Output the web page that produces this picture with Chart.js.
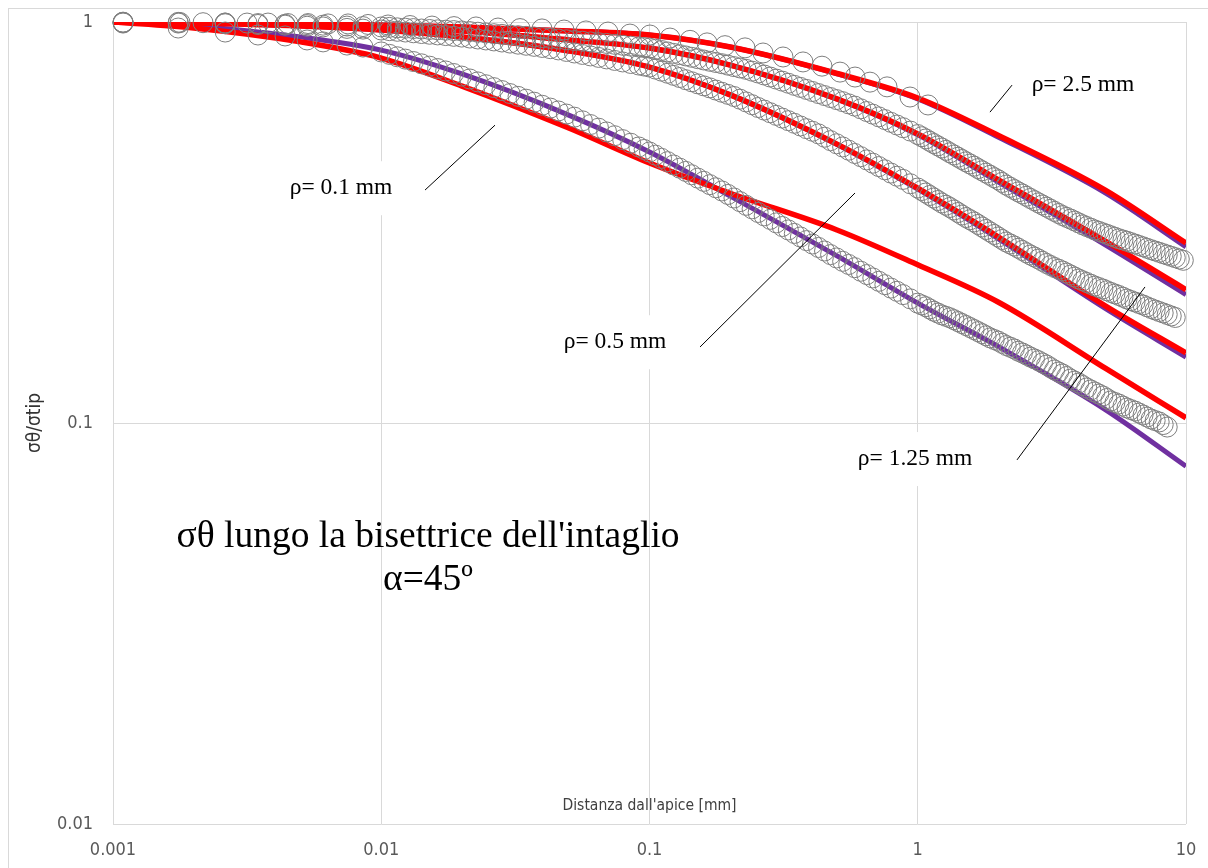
<!DOCTYPE html>
<html>
<head>
<meta charset="utf-8">
<script src="https://cdn.jsdelivr.net/npm/chart.js@4/dist/chart.umd.min.js"></script>
<style>
  html, body { margin: 0; padding: 0; background: #fff; }
  canvas { display: block; }
</style>
</head>
<body>
<canvas id="chart" width="1208" height="868"></canvas>
<script>
// ---- tick values ----
const xTicks = [0.001, 0.01, 0.1, 1, 10];
const yTicks = [0.01, 0.1, 1];

// ---- curve x positions (mm) ----
const xLine = [0.001, 0.002, 0.005, 0.01, 0.02, 0.05, 0.1, 0.2, 0.5, 1, 2, 5, 10];

// red curves
const red25  = [1.0, 0.997, 0.991, 0.983, 0.972, 0.950, 0.928, 0.866, 0.744, 0.646, 0.521, 0.381, 0.281];
const red125 = [1.0, 0.997, 0.986, 0.972, 0.950, 0.902, 0.861, 0.781, 0.643, 0.526, 0.404, 0.284, 0.215];
const red05  = [1.0, 0.994, 0.977, 0.955, 0.917, 0.847, 0.772, 0.658, 0.496, 0.385, 0.291, 0.196, 0.1495];
const red01  = [1.0, 0.966, 0.892, 0.813, 0.692, 0.544, 0.445, 0.374, 0.303, 0.248, 0.200, 0.137, 0.103];

// purple curves
const purple25  = [1.0, 0.997, 0.991, 0.983, 0.972, 0.950, 0.928, 0.866, 0.743, 0.643, 0.516, 0.375, 0.275];
const purple125 = [1.0, 0.997, 0.986, 0.972, 0.950, 0.902, 0.861, 0.781, 0.642, 0.523, 0.399, 0.278, 0.209];
const purple05  = [1.0, 0.994, 0.977, 0.955, 0.917, 0.847, 0.772, 0.658, 0.495, 0.383, 0.288, 0.193, 0.146];
const purple01  = [1.0, 0.977, 0.917, 0.851, 0.742, 0.586, 0.474, 0.368, 0.261, 0.199, 0.155, 0.108, 0.078];

// FEM points, rho = 2.5 mm (sparse)
const xFem25 = [0.00109, 0.001778, 0.002166, 0.002616, 0.00316, 0.003783, 0.004491, 0.005333, 0.006332, 0.007516,
  0.008925, 0.0106, 0.0128, 0.01546, 0.01867, 0.02255, 0.02724, 0.0329, 0.03974, 0.04801,
  0.05798, 0.07003, 0.08459, 0.1004, 0.1192, 0.1416, 0.1639, 0.1912, 0.227, 0.265,
  0.3146, 0.3735, 0.4396, 0.5131, 0.5837, 0.6637, 0.7683, 0.9357, 1.092];
const fem25 = [0.997, 0.997, 0.996, 0.994, 0.994, 0.994, 0.991, 0.991, 0.989, 0.989,
  0.986, 0.983, 0.980, 0.977, 0.974, 0.972, 0.966, 0.963, 0.961, 0.955,
  0.950, 0.944, 0.933, 0.928, 0.912, 0.900, 0.887, 0.873, 0.862, 0.837,
  0.818, 0.795, 0.776, 0.750, 0.729, 0.708, 0.689, 0.650, 0.621];

// FEM points, dense meshes (shared abscissae)
const xFem = [0.00109, 0.00175, 0.00262, 0.00347, 0.00438, 0.00529, 0.00607, 0.00745, 0.00855,
  0.01, 0.01148, 0.01318, 0.01514, 0.01738, 0.01995, 0.02291, 0.0263, 0.0302, 0.03467, 0.03981,
  0.04571, 0.05248, 0.06026, 0.06918, 0.07943, 0.0912,
  0.1, 0.1109, 0.123, 0.1365, 0.1514, 0.1679, 0.1862, 0.2065, 0.2291, 0.2541, 0.2818, 0.3126,
  0.3467, 0.3846, 0.4266, 0.4732, 0.5248, 0.5821, 0.6457, 0.7161, 0.7943, 0.881,
  1, 1.072, 1.148, 1.23, 1.318, 1.413, 1.514, 1.622, 1.738, 1.862, 1.995, 2.138, 2.291, 2.455,
  2.63, 2.818, 3.02, 3.236, 3.467, 3.715, 3.981, 4.266, 4.571, 4.898, 5.248, 5.623, 6.026,
  6.457, 6.918, 7.413, 7.943, 8.511, 9.12, 9.772];

const fem125 = [0.999, 0.998, 0.994, 0.991, 0.987, 0.985, 0.982, 0.977, 0.974,
  0.972, 0.967, 0.963, 0.958, 0.954, 0.950, 0.943, 0.935, 0.928, 0.921, 0.914, 0.907, 0.899,
  0.892, 0.884, 0.875, 0.866,
  0.861, 0.849, 0.835, 0.823, 0.810, 0.798, 0.787, 0.774, 0.762, 0.746, 0.729, 0.712, 0.695,
  0.679, 0.663, 0.648, 0.633, 0.617, 0.598, 0.580, 0.562, 0.545,
  0.524, 0.511, 0.4975, 0.485, 0.472, 0.460, 0.448, 0.437, 0.4255, 0.4147, 0.404, 0.392, 0.382,
  0.3725, 0.363, 0.354, 0.3455, 0.337, 0.329, 0.3225, 0.3155, 0.309, 0.303, 0.298, 0.293,
  0.288, 0.284, 0.2795, 0.275, 0.2705, 0.2665, 0.2624, 0.2584, 0.2545];

const fem05 = [0.998, 0.994, 0.990, 0.986, 0.982, 0.976, 0.972, 0.964, 0.960,
  0.955, 0.948, 0.940, 0.932, 0.925, 0.917, 0.907, 0.897, 0.886, 0.875, 0.864, 0.852, 0.837,
  0.823, 0.809, 0.795, 0.781,
  0.772, 0.754, 0.736, 0.718, 0.701, 0.685, 0.668, 0.652, 0.632, 0.612, 0.594, 0.576, 0.559,
  0.542, 0.526, 0.506, 0.488, 0.470, 0.453, 0.436, 0.420, 0.405,
  0.3855, 0.3746, 0.364, 0.3537, 0.3447, 0.3349, 0.3254, 0.3172, 0.3082, 0.2995, 0.2910, 0.2827,
  0.2763, 0.2693, 0.2624, 0.2564, 0.2499, 0.2442, 0.2394, 0.2339, 0.2286, 0.2241, 0.2196,
  0.2159, 0.2116, 0.2080, 0.2038, 0.2003, 0.1969, 0.1930, 0.1897, 0.1865, 0.1833];

const fem01 = [0.994, 0.966, 0.944, 0.928, 0.923, 0.902, 0.892, 0.876, 0.866,
  0.842, 0.819, 0.797, 0.776, 0.755, 0.733, 0.709, 0.686, 0.663, 0.642, 0.620, 0.600, 0.579,
  0.555, 0.532, 0.509, 0.488,
  0.474, 0.457, 0.440, 0.424, 0.408, 0.393, 0.379, 0.364, 0.349, 0.335, 0.322, 0.309, 0.297,
  0.285, 0.274, 0.263, 0.253, 0.244, 0.2345, 0.2256, 0.217, 0.209,
  0.199, 0.195, 0.190, 0.186, 0.183, 0.179, 0.175, 0.171, 0.167, 0.163, 0.160, 0.156, 0.153,
  0.1495, 0.146, 0.143, 0.1395, 0.1356, 0.1325, 0.1287, 0.1258, 0.1223, 0.1195, 0.1168,
  0.1135, 0.1115, 0.1090, 0.1071, 0.1047, 0.1023, 0.1006, 0.0977];

// FEM points lying between the nodes above (finer part of the meshes)
const xFemMid = [0.01072, 0.0123, 0.01413, 0.01622, 0.01862, 0.02138, 0.02455, 0.02818, 0.03236,
  0.03715, 0.04266, 0.04898, 0.05623, 0.06457, 0.07413, 0.08511, 0.0955,
  0.1053, 0.1168, 0.1296, 0.1437, 0.1594, 0.1768, 0.1961, 0.2175, 0.2413, 0.2676, 0.2968,
  0.3292, 0.3652, 0.405, 0.4493, 0.4983, 0.5527, 0.6131, 0.68, 0.7542, 0.8366, 0.9385,
  1.035, 1.109, 1.189, 1.274, 1.365, 1.462, 1.567, 1.679, 1.799, 1.928, 2.065, 2.213, 2.371,
  2.541, 2.723, 2.917, 3.126, 3.35, 3.589, 3.846, 4.121, 4.416, 4.732, 5.07, 5.433, 5.821,
  6.237, 6.683, 7.161, 7.674, 8.222, 8.81, 9.441];

const fem125Mid = [0.9695, 0.965, 0.9605, 0.956, 0.952, 0.9465, 0.939, 0.9315, 0.9245,
  0.9175, 0.9105, 0.903, 0.8955, 0.888, 0.8795, 0.8705, 0.8635,
  0.855, 0.842, 0.829, 0.8165, 0.804, 0.7925, 0.7805, 0.768, 0.754, 0.7375, 0.7205,
  0.7035, 0.687, 0.671, 0.6555, 0.6405, 0.625, 0.6075, 0.589, 0.571, 0.5535, 0.5345,
  0.5175, 0.504, 0.491, 0.4785, 0.466, 0.454, 0.4425, 0.431, 0.42, 0.409, 0.398, 0.387, 0.377,
  0.3677, 0.3585, 0.3497, 0.3412, 0.333, 0.3257, 0.319, 0.312, 0.306, 0.3005, 0.2955, 0.2905,
  0.286, 0.2817, 0.2772, 0.2727, 0.2685, 0.2644, 0.2604, 0.2564];

const fem05Mid = [0.9515, 0.944, 0.936, 0.9285, 0.921, 0.912, 0.902, 0.8915, 0.8805,
  0.8695, 0.858, 0.8445, 0.83, 0.816, 0.802, 0.788, 0.7765,
  0.763, 0.745, 0.727, 0.7095, 0.693, 0.6765, 0.66, 0.642, 0.622, 0.603, 0.585,
  0.5675, 0.5505, 0.534, 0.516, 0.497, 0.479, 0.4615, 0.4445, 0.428, 0.4125, 0.395,
  0.380, 0.3693, 0.3588, 0.3492, 0.3398, 0.3301, 0.3213, 0.3127, 0.3038, 0.2952, 0.2868, 0.2795,
  0.2728, 0.2658, 0.2594, 0.2531, 0.247, 0.2418, 0.2366, 0.2312, 0.2263, 0.2218, 0.2177, 0.2137,
  0.2098, 0.2059, 0.202, 0.1986, 0.1949, 0.1913, 0.1881, 0.1849];

const fem01Mid = [0.8305, 0.808, 0.7865, 0.7655, 0.744, 0.721, 0.6975, 0.6745, 0.6525,
  0.631, 0.61, 0.5895, 0.567, 0.5435, 0.5205, 0.4985, 0.481,
  0.4655, 0.4485, 0.432, 0.416, 0.4005, 0.386, 0.3715, 0.3565, 0.342, 0.3285, 0.3155,
  0.303, 0.291, 0.2795, 0.2685, 0.258, 0.2485, 0.239, 0.230, 0.2213, 0.213, 0.204,
  0.197, 0.1925, 0.188, 0.1845, 0.181, 0.177, 0.173, 0.169, 0.165, 0.1615, 0.158, 0.1545,
  0.151, 0.1478, 0.1445, 0.1412, 0.1375, 0.134, 0.1306, 0.1272, 0.124, 0.1209, 0.1181, 0.1151,
  0.1125, 0.1102, 0.108, 0.1059, 0.1035, 0.1014, 0.0991];

// annotations (data coordinates)
const labelText = ['ρ= 0.1 mm', 'ρ= 0.5 mm', 'ρ= 1.25 mm', 'ρ= 2.5 mm'];
const labelX = [0.00708, 0.0744, 0.977, 4.13];
const labelY = [0.385, 0.159, 0.0813, 0.696];
const leaderX1 = [0.01456, 0.1543, 2.344, 1.859];
const leaderY1 = [0.381, 0.1547, 0.0809, 0.596];
const leaderX2 = [0.02655, 0.5837, 7.033, 2.246];
const leaderY2 = [0.553, 0.3746, 0.2184, 0.696];
const titleLines = ["σθ lungo la bisettrice dell'intaglio", 'α=45º'];
const titleX = 0.01494;
const titleY = [0.0520, 0.0406];
const xTitle = "Distanza dall'apice [mm]";
const yTitle = 'σθ/σtip';

const FONT_SANS = "'Liberation Sans Narrow', 'DejaVu Sans Condensed', 'Roboto Condensed', Roboto, sans-serif";
const FONT_SERIF = "'Liberation Serif', 'Times New Roman', serif";
const RED = '#ff0000';
const PURPLE = '#7030a0';
const GRAY = '#7f7f7f';

function pts(xs, ys) {
    return ys.map((v, i) => ({ x: xs[i], y: v }));
}

function circles(xs, ys) {
    return {
        data: pts(xs, ys),
        showLine: false,
        pointRadius: 10,
        pointBorderWidth: 1,
        pointBorderColor: GRAY,
        pointBackgroundColor: 'rgba(0,0,0,0)',
        clip: false
    };
}

function curve(ys, color, width) {
    return {
        data: pts(xLine, ys),
        showLine: true,
        borderColor: color,
        borderWidth: width,
        pointRadius: 0,
        cubicInterpolationMode: 'monotone',
        clip: 0
    };
}

// first dataset is painted last (on top)
const datasets = [
    circles(xFem25, fem25),
    circles(xFem, fem125),
    circles(xFemMid, fem125Mid),
    circles(xFem, fem05),
    circles(xFemMid, fem05Mid),
    circles(xFem, fem01),
    circles(xFemMid, fem01Mid),
    curve(red25, RED, 5.5),
    curve(red125, RED, 5.5),
    curve(red05, RED, 5.5),
    curve(red01, RED, 5.5),
    curve(purple25, PURPLE, 5),
    curve(purple125, PURPLE, 5),
    curve(purple05, PURPLE, 5),
    curve(purple01, PURPLE, 5)
];

const decorations = {
    id: 'decorations',
    beforeDraw(chart) {
        const ctx = chart.ctx;
        ctx.save();
        ctx.fillStyle = '#fff';
        ctx.fillRect(0, 0, chart.width, chart.height);
        ctx.strokeStyle = '#d9d9d9';
        ctx.lineWidth = 1;
        ctx.strokeRect(8.5, 8.5, chart.width + 20, chart.height + 20);
        ctx.restore();
    },
    afterDatasetsDraw(chart) {
        const ctx = chart.ctx;
        const sx = chart.scales.x, sy = chart.scales.y;
        const area = chart.chartArea;
        ctx.save();

        // leader lines
        ctx.strokeStyle = '#000';
        ctx.lineWidth = 1;
        for (let i = 0; i < leaderX1.length; i++) {
            ctx.beginPath();
            ctx.moveTo(sx.getPixelForValue(leaderX1[i]), sy.getPixelForValue(leaderY1[i]));
            ctx.lineTo(sx.getPixelForValue(leaderX2[i]), sy.getPixelForValue(leaderY2[i]));
            ctx.stroke();
        }

        // rho labels in white boxes
        ctx.font = '23.5px ' + FONT_SERIF;
        ctx.textAlign = 'center';
        ctx.textBaseline = 'middle';
        for (let i = 0; i < labelText.length; i++) {
            const px = sx.getPixelForValue(labelX[i]);
            const py = sy.getPixelForValue(labelY[i]);
            const w = ctx.measureText(labelText[i]).width + 30;
            ctx.fillStyle = '#fff';
            ctx.fillRect(px - w / 2, py - 27, w, 54);
            ctx.fillStyle = '#000';
            ctx.fillText(labelText[i], px, py);
        }

        // chart title inside plot
        ctx.font = '37.5px ' + FONT_SERIF;
        ctx.fillStyle = '#000';
        const tx = sx.getPixelForValue(titleX);
        titleLines.forEach((t, i) => ctx.fillText(t, tx, sy.getPixelForValue(titleY[i])));

        // axis titles
        ctx.fillStyle = '#404040';
        ctx.font = '15.5px ' + FONT_SANS;
        ctx.fillText(xTitle, (area.left + area.right) / 2, area.bottom - 18);
        ctx.font = '19px ' + FONT_SANS;
        ctx.fillStyle = '#333333';
        ctx.translate(35, (area.top + area.bottom) / 2);
        ctx.rotate(-Math.PI / 2);
        ctx.fillText(yTitle, 0, 0);
        ctx.restore();
    }
};

const tickFont = { family: FONT_SANS, size: 18 };

new Chart(document.getElementById('chart'), {
    type: 'scatter',
    data: { datasets: datasets },
    options: {
        responsive: false,
        animation: false,
        devicePixelRatio: 1,
        layout: { padding: { top: 22, right: 22, left: 0, bottom: 0 } },
        plugins: {
            legend: { display: false },
            tooltip: { enabled: false }
        },
        scales: {
            x: {
                type: 'logarithmic',
                min: 0.001,
                max: 10,
                afterBuildTicks: s => { s.ticks = xTicks.map(v => ({ value: v })); },
                afterFit: s => {
                    s.height = 44;
                    s.paddingLeft = 0;
                    s.paddingRight = 0;
                },
                ticks: {
                    callback: v => String(v),
                    color: '#595959',
                    font: tickFont,
                    padding: 16,
                    maxRotation: 0,
                    autoSkip: false
                },
                grid: { color: '#d9d9d9', drawTicks: false },
                border: { display: false }
            },
            y: {
                type: 'logarithmic',
                min: 0.01,
                max: 1,
                afterBuildTicks: s => { s.ticks = yTicks.map(v => ({ value: v })); },
                afterFit: s => {
                    s.width = 113;
                    s.paddingTop = 0;
                    s.paddingBottom = 0;
                },
                ticks: {
                    callback: v => String(v),
                    color: '#595959',
                    font: tickFont,
                    padding: 20,
                    autoSkip: false
                },
                grid: { color: '#d9d9d9', drawTicks: false },
                border: { display: false }
            }
        }
    },
    plugins: [decorations]
});
</script>
</body>
</html>
